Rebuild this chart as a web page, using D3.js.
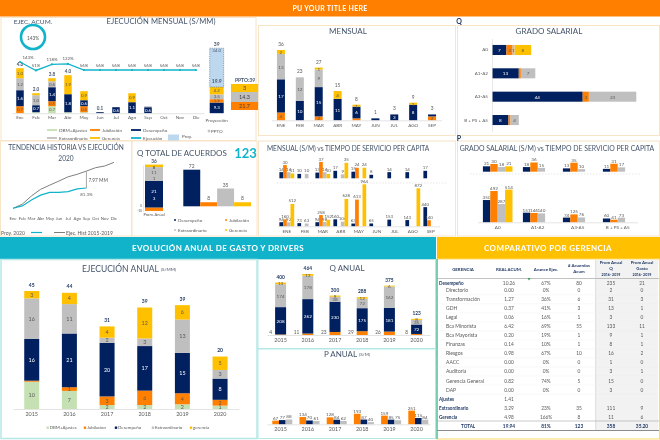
<!DOCTYPE html>
<html><head><meta charset="utf-8">
<script src="https://cdn.jsdelivr.net/npm/d3@7/dist/d3.min.js"></script>
<style>html,body{margin:0;padding:0;background:#fff}svg{display:block;filter:blur(0.3px)}text{font-family:Lato,"Open Sans",sans-serif}</style>
</head><body><svg id="c" width="660" height="440"></svg>
<script>
// ---------- data ----------
const seriesKeys = ["dbm","jub","des","ext","ger"];
const monthsShort = ["Ene","Feb","Mar","Abr","May","Jun","Jul","Ago","Sep","Oct","Nov","Dic"];
const ejecDbm = [0,0.1,0.7,0.1,0.1,0,0,0,0,0,0,0];
const ejecJub = [0.7,0,0.5,0,0.6,0,0,0,0,0,0,0];
const ejecDes = [1.6,0.7,1.4,1.8,0.6,0.1,0.6,1.1,0.6,0,0,0];
const ejecExt = [1.2,1.0,0.6,0,0,0,0,0,0.1,0,0,0];
const ejecGer = [1.0,0.2,0.3,1.9,0.9,0,0,0.9,0,0,0,0];
const ejecTotals = ["4.6","2.0","3.8","4.0","","0.1","","","","","",""];
const ejecPct = [143,51,118,122,56,56,56,56,56,56,56,56];
const projKeys = ["des","jub","ext","ger","proy"];
const projValues = [6.4,2,2.9,4.4,23.3];
const projLabels = ["9.3","1.9","3.5","4.2","19.9"];
const pptoValues = ["3","14.3","21.7"];

const trendMonths = monthsShort;
const trendHist = [10.4,12.3,16.2,19.3,21.3,23.2,25.2,26.4,27.9,29.5,30.3,32];
const trendEjec = [10.4,11.5,14.3,16.6,17.9,17.9,18.2,19.5,19.94];

const qTotalCats = ["Desempeño","Jubilación","Extraordinario","Gerencia"];
const qTotalVals = [72,8,35,8];
const qAvgVals = [21.3,11.1,2];
const qAvgJub = -2.6;

const monthsUp = ["ENE","FEB","MAR","ABR","MAY","JUN","JUL","AGO","SEP"];
const mensJub = [4,0,2,0,1,0,0,0,2];
const mensDes = [17,10,15,11,6,1,3,8,1];
const mensExt = [13,12,9,0,0,0,0,0,0];
const mensGer = [2,0,1,4,1,0,0,1,0];
const mensTotals = [36,23,27,15,8,1,3,9,3];

const gradeCats = ["A0","A1-A2","A3-A5","B + PS + A5"];
const gradeDes = [7,13,44,8];
const gradeJub = [3,1,3,1];
const gradeExt = [1,7,23,4];
const gradeGer = [8,0,0,0];

const timeKeys = ["des","jub","ext","ger"];
const timeTopDes = [14,10,13,17,15,8,14,14,17];
const timeTopJub = [30,null,37,null,24,null,null,null,null];
const timeTopExt = [14,10,14,9,null,null,null,null,null];
const timeTopGer = [11,null,10,35,24,null,null,null,null];
const timeLowDes = [94,73,94,160,63,65,153,143,440];
const timeLowJub = [160,null,258,null,613,null,null,null,140];
const timeLowExt = [92,63,98,106,null,null,null,null,null];
const timeLowGer = [512,null,152,628,964,null,null,872,null];

const gradeTopDes = [21,18,13,11];
const gradeTopJub = [30,36,35,31];
const gradeTopExt = [18,15,10,17];
const gradeTopGer = [21,null,null,null];
const gradeLowDes = [350,151,74,60];
const gradeLowJub = [492,146,125,41];
const gradeLowExt = [287,140,76,73];
const gradeLowGer = [514,null,null,null];

const years = ["2015","2016","2017","2018","2019","2020"];
const anualDbm = [10.4,6.9,1.5,1.5,1.8,1.3];
const anualJub = [0.4,1.4,3.3,5.5,4.2,2.2];
const anualDes = [15.9,20.5,20.4,17,15.4,8.1];
const anualExt = [15.5,11.2,2,2.9,12.7,3.3];
const anualGer = [2.8,4.3,4.3,11.8,5.5,5.1];
const anualTotals = [45,44,31,39,39,20];

const qaJub = [4,11,23,29,26,8];
const qaDes = [208,262,230,175,181,72];
const qaExt = [174,178,38,72,162,35];
const qaGer = [13,13,9,12,6,8];
const qaTotals = [400,464,300,288,375,123];

const paKeys = ["jub","des","ext"];
const paJub = [67,134,128,193,159,251];
const paDes = [77,70,84,87,85,115];
const paExt = [88,61,62,40,75,84];

const tableHeads = [["GERENCIA"],["REAL  ACUM."],["Avance Ejec."],["# Acuerdos","Acum"],["Prom Anual","Q","2016- 2019"],["Prom Anual","Gasto","2016- 2019"]];
const tableNames = ["Desempeño","Directorio","Transformación","GDH","Legal","Bca Minorista","Bca Mayorista","Finanzas","Riesgos","AACC","Auditoria","Gerencia General","DAP","Ajustes","Extraordinario","Gerencia","TOTAL"];
const tableBold = ["Desempeño","Ajustes","Extraordinario","Gerencia","TOTAL"];
const tableReal = ["10.26","0.00","1.27","0.37","0.06","6.42","0.20","0.14","0.98","0.00","0.00","0.82","0.00","1.41","3.29","4.98","19.94"];
const tableAvance = ["67%","0%","36%","41%","16%","69%","19%","10%","67%","0%","0%","74%","0%","","23%","166%","81%"];
const tableAcuerdos = ["80","0","6","3","1","55","1","1","10","0","0","5","0","","35","8","123"];
const tablePromQ = ["235","2","31","13","3","133","9","8","16","1","3","15","3","","111","11","358"];
const tablePromG = ["21","0","3","1","0","11","1","1","2","0","1","0","0","","9","6","35.20"];

// ---------- style ----------
const col = {dbm:"#C5E0B3",jub:"#FF8000",des:"#002060",ext:"#BFBFBF",ger:"#FFC000",proy:"#BDD7EE"};
const teal = "#11B3CB", ink = "#44546A", soft="#595959", beige="#F8E4C6", lightTeal="#B5E7E7";
const svg = d3.select("#c");

function rect(x,y,w,h,fill,stroke,sw){return svg.append("rect").attr("x",x).attr("y",y).attr("width",w).attr("height",h).attr("fill",fill||"none").attr("stroke",stroke||"none").attr("stroke-width",sw||0);}
function text(x,y,t,o){o=o||{};return svg.append("text").attr("x",x).attr("y",y).attr("text-anchor",o.a||"middle").attr("dominant-baseline","central").attr("font-size",o.s||5).attr("font-weight",o.b?"bold":"normal").attr("fill",o.c||soft).attr("letter-spacing",o.ls||0).text(t);}
function hline(x1,x2,y,c,sw,dash){return svg.append("line").attr("x1",x1).attr("x2",x2).attr("y1",y).attr("y2",y).attr("stroke",c).attr("stroke-width",sw||1).attr("stroke-dasharray",dash||null);}
function vline(x,y1,y2,c,sw){return svg.append("line").attr("x1",x).attr("x2",x).attr("y1",y1).attr("y2",y2).attr("stroke",c).attr("stroke-width",sw||1);}
function axis(x,y0,size,color){
  const g=svg.append("g").attr("transform",`translate(0,${y0})`).call(d3.axisBottom(x).tickSize(0).tickPadding(3));
  g.selectAll("text").attr("font-size",size||5).attr("fill",color||soft).attr("font-family","Lato");
  g.select(".domain").attr("stroke","#D9D9D9").attr("stroke-width",0.7);
  return g;
}
function stacked(cats,keys,cols,x,y,w,opt){
  opt=opt||{};
  const table=cats.map((c,i)=>{const r={cat:c};keys.forEach((k,j)=>r[k]=cols[j][i]);return r;});
  const layers=d3.stack().keys(keys)(table);
  layers.forEach(l=>{
    const g=svg.append("g");
    g.selectAll("rect").data(l).join("rect")
      .attr("x",d=>x(d.data.cat)+x.bandwidth()/2-w/2).attr("y",d=>y(d[1])).attr("width",w)
      .attr("height",d=>Math.max(0,y(d[0])-y(d[1]))).attr("fill",col[l.key]);
    if(opt.labels!==false){
      const minV=(opt.minBy&&opt.minBy[l.key])||opt.min||0;
      g.selectAll("text").data(l.filter(d=>(d[1]-d[0])>=minV && (d[1]-d[0])>0 && !(opt.skip||[]).includes(l.key))).join("text")
        .attr("x",d=>x(d.data.cat)+x.bandwidth()/2).attr("y",d=>(y(d[0])+y(d[1]))/2).attr("text-anchor","middle").attr("dominant-baseline","central")
        .attr("font-size",opt.size||5).attr("fill",l.key==="des"?"#fff":"#595959")
        .text(d=>opt.fmt?opt.fmt(d[1]-d[0]):Math.round(d[1]-d[0])||1);
    }
  });
  return table;
}
function grouped(cats,keys,cols,x,inner,y,opt){
  opt=opt||{};
  keys.forEach((k,j)=>{
    const data=cats.map((c,i)=>({c,v:cols[j][i]})).filter(d=>d.v!=null);
    const cx=d=>x(d.c)+x.bandwidth()/2+inner(k);
    const g=svg.append("g");
    g.selectAll("rect").data(data).join("rect").attr("x",cx).attr("y",d=>y(d.v)).attr("width",inner.bandwidth())
      .attr("height",d=>y(0)-y(d.v)).attr("fill",col[k]);
    g.selectAll("text").data(data).join("text").attr("x",d=>cx(d)+inner.bandwidth()/2).attr("y",d=>y(d.v)-3)
      .attr("text-anchor","middle").attr("dominant-baseline","central").attr("font-size",opt.size||5).attr("fill",soft).text(d=>d.v);
  });
}
const band=(dom,a,b)=>d3.scaleBand().domain(dom).range([a,b]);
const linY=(v0,p0,v1,p1)=>d3.scaleLinear().domain([v0,v1]).range([p0,p1]);

// ---------- frames ----------
rect(0,0,660,16.5,"#FF8000");
text(330,7.5,"PU YOUR TITLE HERE",{s:7,b:true,c:"#fff",ls:0.3});
rect(1,17.5,255,123,"none",beige,1);
rect(0.5,141,131,95,"none",beige,1);
rect(132,141,125,95,"none",beige,1);
rect(258.5,25.5,197,110,"none",beige,1);
rect(258.5,141,197,95,"none",beige,1);
rect(457.5,25.5,202,110,"none",beige,1);
rect(457.5,141,202,95,"none",beige,1);
rect(0,237,436,22,teal);
rect(437,237,223,22,"#FFC000");
text(218,248,"EVOLUCIÓN ANUAL DE GASTO Y DRIVERS",{s:8,b:true,c:"#fff",ls:0.4});
text(548,248,"COMPARATIVO POR GERENCIA",{s:8,b:true,c:"#fff",ls:0.4});
rect(1,259.5,256,179,"none",lightTeal,1.5);
rect(258,259.5,177.5,89,"none",lightTeal,1);
rect(258,349,177.5,89.5,"none",lightTeal,1);
rect(437,259,222.5,180,"none","#FFD966",1);
vline(437,259,439,"#57C9B0",1.6);
text(459,20.5,"Q",{s:7,b:true,c:"#1F3864"});
text(459,137.5,"P",{s:7,b:true,c:"#1F3864"});

// ---------- ejecucion mensual ----------
text(33,21,"EJEC. ACUM.",{s:6.5,c:ink});
text(161,21,"EJECUCIÓN MENSUAL (S/MM)",{s:7.6,c:ink,ls:0.1});
svg.append("circle").attr("cx",33).attr("cy",37).attr("r",12).attr("fill","#fff").attr("stroke",teal).attr("stroke-width",2.6);
text(33,37.5,"143%",{s:4.8});
{
  const x=band(monthsShort,12,204), y=linY(0,113.2,10,13.2);
  stacked(monthsShort,seriesKeys,[ejecDbm,ejecJub,ejecDes,ejecExt,ejecGer],x,y,7.5,{fmt:d3.format(".1f"),min:0.3,size:4.4});
  axis(x,113.2,4.6);
  svg.append("g").selectAll("text").data(monthsShort.map((m,i)=>({m,t:ejecTotals[i],v:ejecDbm[i]+ejecJub[i]+ejecDes[i]+ejecExt[i]+ejecGer[i]})).filter(d=>d.t)).join("text")
    .attr("x",d=>x(d.m)+8).attr("y",d=>y(d.v)-4).attr("text-anchor","middle").attr("dominant-baseline","central").attr("font-size",4.6).attr("font-weight","bold").attr("fill",ink).text(d=>d.t);
  const py=linY(56,70,143,62);
  const line=d3.line().x((d,i)=>x(monthsShort[i])+8).y(d=>py(d));
  svg.append("path").attr("d",line(ejecPct)).attr("fill","none").attr("stroke",teal).attr("stroke-width",1.3);
  svg.append("g").selectAll("circle").data(ejecPct).join("circle").attr("cx",(d,i)=>x(monthsShort[i])+8).attr("cy",d=>py(d)).attr("r",1.1).attr("fill",teal);
  svg.append("g").selectAll("text").data(ejecPct).join("text").attr("x",(d,i)=>x(monthsShort[i])+8+(i===0?8:0)).attr("y",d=>py(d)-5).attr("text-anchor","middle").attr("dominant-baseline","central").attr("font-size",4.4).attr("fill",soft).text(d=>d+"%");
  // projection column
  const yp=linY(0,113.2,39,48.2);
  const pcx=216.7,pw=14; let acc=0;
  projKeys.forEach((k,i)=>{
    const v=projValues[i], y1=yp(acc+v), y0=yp(acc); acc+=v;
    const r=rect(pcx-pw/2,y1,pw,y0-y1,col[k]);
    if(k==="proy") r.attr("stroke","#44546A").attr("stroke-width",0.5).attr("stroke-dasharray","1.2 1");
    text(pcx,k==="proy"?(y0-6):(y0+y1)/2,projLabels[i],{s:k==="proy"?5:4.4,b:k==="proy",c:k==="des"?"#fff":(k==="proy"?ink:soft)});
  });
  text(pcx,50.5,"34.0",{s:4.4,c:ink});
  text(pcx,43.5,"39",{s:5,b:true,c:ink});
  text(pcx,119.5,"Proyección",{s:4.6});
  text(245,80,"PPTO:39",{s:5,b:true,c:ink});
  const boxes=[[84,8,"ger"],[92,10,"ext"],[102,8,"jub"]];
  boxes.forEach((b,i)=>{rect(231,b[0],27,b[1],col[b[2]]);text(244.5,b[0]+b[1]/2,pptoValues[i],{s:5.5,c:"#404040"});});
  // legend
  [[47,130,"DBM+Ajustes","dbm"],[90,130,"Jubilación","jub"],[131,130,"Desempeño","des"],[47,138,"Extraordinario","ext"],[90,138,"Gerencia","ger"],[131,138,"Ejecución",teal]].forEach(l=>{
    hline(l[0],l[0]+10,l[1],col[l[3]]||l[3],1.8);
    text(l[0]+12,l[1],l[2],{s:4.6,a:"start"});
  });
  rect(168,134.5,11,6,col.proy);
  text(182,136,"Proy.",{s:4.6,a:"start"});
  svg.append("circle").attr("cx",209).attr("cy",131).attr("r",1).attr("fill","none").attr("stroke",soft).attr("stroke-width",0.4);
  text(211,131,"PPTO",{s:4.6,a:"start"});
}

// ---------- tendencia ----------
text(66,147,"TENDENCIA HISTORIA VS EJECUCIÓN",{s:6.6,c:ink});
text(66,158,"2020",{s:6.6,c:ink});
{
  const x=band(trendMonths,8.5,118.5), y=linY(19.94,188,27.94,171);
  const line=d3.line().x((d,i)=>x(trendMonths[i])+x.bandwidth()/2).y(d=>y(d));
  svg.append("path").attr("d",line(trendHist)).attr("fill","none").attr("stroke","#7F7F7F").attr("stroke-width",1);
  svg.append("path").attr("d",line(trendEjec)).attr("fill","none").attr("stroke",teal).attr("stroke-width",1.2);
  const xs=x("Sep")+x.bandwidth()/2;
  vline(xs,y(trendHist[8]),y(trendEjec[8]),"#A6A6A6",1);
  text(xs+2,180,"7.97 MM",{s:4.8,a:"start"});
  text(xs,194,"81.3%",{s:4.4});
  const g=axis(x,214,4.3); g.select(".domain").attr("stroke","none");
  text(1,233,"Proy. 2020",{s:5,a:"start"});
  hline(31,42,232.5,teal,1.2);
  hline(54,65,232.5,"#7F7F7F",1);
  text(66,233,"Ejec. Hist 2015-2019",{s:5,a:"start"});
}

// ---------- q total ----------
text(137,153,"Q TOTAL DE ACUERDOS",{s:8,a:"start",c:ink});
text(245.5,153,"123",{s:13,b:true,c:teal});
{
  const ya=linY(0,207.7,21.3,181);
  const xa=band(["Prom. Anual"],145,163);
  stacked(["Prom. Anual"],["des","ext","ger"],qAvgVals.map(v=>[v]),xa,ya,18,{labels:false});
  rect(145,ya(0),18,ya(qAvgJub)-ya(0),col.jub);
  text(154,191,"21",{s:4.6,c:"#fff"});text(154,197.5,"3",{s:4.6,c:"#fff"});
  text(154,172,"11",{s:4.6});text(154,178,"1",{s:4.6});
  text(154,167,"8",{s:4.2,b:true});
  text(154,161,"36",{s:4.8,b:true,c:ink});
  vline(143.5,165.5,212,"#D9D9D9",0.6);
  text(154,214.5,"Prom. Anual",{s:4});
  text(142,205.5,"0",{s:3,a:"end"});text(142,210.5,"-10",{s:3,a:"end"});
  const x=band(qTotalCats,183.3,251), y=linY(0,206.3,72,169.7);
  const colsT=[col.des,col.jub,col.ext,col.ger];
  qTotalCats.forEach((c,i)=>{
    rect(x(c),y(qTotalVals[i]),x.bandwidth(),y(0)-y(qTotalVals[i]),colsT[i]);
    text(x(c)+x.bandwidth()/2,y(qTotalVals[i])-4,qTotalVals[i],{s:5});
    const lx=[175,226,175,226][i], ly=[220,220,230,230][i];
    svg.append("circle").attr("cx",lx).attr("cy",ly).attr("r",1).attr("fill",colsT[i]);
    text(lx+3,ly,c,{s:4.6,a:"start"});
  });
}

// ---------- mensual ----------
text(348,31,"MENSUAL",{s:8,c:ink});
{
  const x=band(monthsUp,271.5,441.5), y=linY(0,120.3,36,50);
  stacked(monthsUp,["jub","des","ext","ger"],[mensJub,mensDes,mensExt,mensGer],x,y,8,{size:4.6,minBy:{des:3,jub:2,ger:1}});
  axis(x,120.3,4.6);
  svg.append("g").selectAll("text").data(monthsUp).join("text").attr("x",m=>x(m)+x.bandwidth()/2)
    .attr("y",(m,i)=>y(mensJub[i]+mensDes[i]+mensExt[i]+mensGer[i])-6).attr("text-anchor","middle").attr("dominant-baseline","central").attr("font-size",4.8).attr("fill",soft).text((m,i)=>mensTotals[i]);
}

// ---------- grado salarial ----------
text(549,31,"GRADO SALARIAL",{s:8,c:ink});
{
  const y=d3.scaleBand().domain(gradeCats).range([38.4,131.6]).paddingInner(0.57).paddingOuter(0.28), x=d3.scaleLinear().domain([0,44]).range([492,582.7]);
  const table=gradeCats.map((c,i)=>({cat:c,des:gradeDes[i],jub:gradeJub[i],ext:gradeExt[i],ger:gradeGer[i]}));
  d3.stack().keys(["des","jub","ext","ger"])(table).forEach(l=>{
    const g=svg.append("g");
    g.selectAll("rect").data(l).join("rect").attr("x",d=>x(d[0])).attr("y",d=>y(d.data.cat)).attr("width",d=>x(d[1])-x(d[0])).attr("height",y.bandwidth()).attr("fill",col[l.key]);
    g.selectAll("text").data(l.filter(d=>d[1]-d[0]>1 || (l.key==="ext"&&d[1]-d[0]===1))).join("text").attr("x",d=>(x(d[0])+x(d[1]))/2).attr("y",d=>y(d.data.cat)+y.bandwidth()/2)
      .attr("text-anchor","middle").attr("dominant-baseline","central").attr("font-size",4.6).attr("fill",l.key==="des"?"#fff":soft).text(d=>d[1]-d[0]);
  });
  const ax=svg.append("g").attr("transform","translate(492,0)").call(d3.axisLeft(y).tickSize(0).tickPadding(4));
  ax.selectAll("text").attr("font-size",4.6).attr("fill",soft).attr("font-family","Lato");
  ax.select(".domain").attr("stroke","#D9D9D9").attr("stroke-width",0.6);
}

// ---------- mensual vs tiempo ----------
text(267,148,"MENSUAL (S/M) vs TIEMPO DE SERVICIO PER CAPITA",{s:6.6,a:"start",c:ink});
{
  const x=band(monthsUp,277.8,439.8);
  const inner=d3.scaleBand().domain(timeKeys).range([-7.4,7.4]);
  grouped(monthsUp,timeKeys,[timeTopDes,timeTopJub,timeTopExt,timeTopGer],x,inner,linY(0,178.3,37,162),{size:4.4});
  hline(277,448,183,"#D9D9D9",0.6,"1.5 1.5");
  grouped(monthsUp,timeKeys,[timeLowDes,timeLowJub,timeLowExt,timeLowGer],x,inner,linY(0,226.3,964,184.3),{size:4.4});
  axis(x,226.3,4.6);
}

// ---------- grado vs tiempo ----------
text(557,148,"GRADO SALARIAL (S/M) vs TIEMPO DE SERVICIO PER CAPITA",{s:6.9,c:ink});
{
  const x=band(gradeCats,477.7,637.7);
  const inner=d3.scaleBand().domain(timeKeys).range([-14.8,14.8]);
  grouped(gradeCats,timeKeys,[gradeTopDes,gradeTopJub,gradeTopExt,gradeTopGer],x,inner,linY(0,171.7,30,164),{size:4.6});
  hline(470,640,174,"#D9D9D9",0.6,"1.5 1.5");
  grouped(gradeCats,timeKeys,[gradeLowDes,gradeLowJub,gradeLowExt,gradeLowGer],x,inner,linY(0,222.3,514,189.6),{size:4.6});
  axis(x,222.3,4.6);
}

// ---------- ejecucion anual ----------
svg.append("text").attr("x",129).attr("y",268.5).attr("text-anchor","middle").attr("dominant-baseline","central").attr("fill",ink).attr("font-size",8.5).text("EJECUCIÓN ANUAL ").append("tspan").attr("font-size",4.5).text("(S/MM)");
{
  const x=band(years,12.9,238.9), y=linY(0,409,45,291);
  stacked(years,seriesKeys,[anualDbm,anualJub,anualDes,anualExt,anualGer],x,y,15,{size:5.4,min:0.9});
  axis(x,409,5.4);
  svg.append("g").selectAll("text").data(years).join("text").attr("x",m=>x(m)+x.bandwidth()/2)
    .attr("y",(m,i)=>y(anualDbm[i]+anualJub[i]+anualDes[i]+anualExt[i]+anualGer[i])-6.5).attr("text-anchor","middle").attr("dominant-baseline","central").attr("font-size",5).attr("font-weight","bold").attr("fill","#1F3864").text((m,i)=>anualTotals[i]);
  [[47.7,"DBM+Ajustes","dbm"],[85,"Jubilacion","jub"],[116,"Desempeño","des"],[153,"Extraordinario","ext"],[191,"gerencia","ger"]].forEach(l=>{
    rect(l[0]-1.2,426.5,2.4,2.4,col[l[2]]);
    text(l[0]+2,427.7,l[1],{s:4.4,a:"start"});
  });
}

// ---------- q anual ----------
text(347,268,"Q ANUAL",{s:8,c:ink});
{
  const x=band(years,267,430.2), y=linY(0,335,464,274);
  stacked(years,["jub","des","ext","ger"],[qaJub,qaDes,qaExt,qaGer],x,y,11,{size:4.6,skip:["jub"]});
  axis(x,335,5.4);
  svg.append("g").selectAll("text").data(years).join("text").attr("x",m=>x(m)+x.bandwidth()/2-8.5).attr("y",331.5).attr("text-anchor","end").attr("dominant-baseline","central").attr("font-size",4.8).attr("fill",soft).text((m,i)=>qaJub[i]);
  svg.append("g").selectAll("text").data(years).join("text").attr("x",m=>x(m)+x.bandwidth()/2)
    .attr("y",(m,i)=>y(qaJub[i]+qaDes[i]+qaExt[i]+qaGer[i])-6).attr("text-anchor","middle").attr("dominant-baseline","central").attr("font-size",4.8).attr("font-weight","bold").attr("fill","#1F3864").text((m,i)=>qaTotals[i]);
}

// ---------- p anual ----------
svg.append("text").attr("x",347).attr("y",354).attr("text-anchor","middle").attr("dominant-baseline","central").attr("fill",ink).attr("font-size",8).text("P ANUAL ").append("tspan").attr("font-size",4.5).text("(S/M)");
{
  const x=band(years,267,430.2);
  const inner=d3.scaleBand().domain(paKeys).range([-8.3,11.7]);
  grouped(years,paKeys,[paJub,paDes,paExt],x,inner,linY(0,424.3,251,410.6),{size:4.6});
  axis(x,424.3,5.4);
}

// ---------- tabla ----------
{
  const headX=[463,509,546,579,611,642];
  rect(595.7,260,62.5,170,"#F2F2F2");
  tableHeads.forEach((h,i)=>{
    const many=h.length===3, two=h.length===2;
    h.forEach((t,j)=>text(headX[i],(many?262+j*6.3:two?265+j*6:269)+0,t,{s:many&&j===2?3.6:4.4,b:true,c:"#1F3864"}));
  });
  hline(437.5,659,278.5,"#A6A6A6",0.7);
  vline(595.7,260,430,"#BFBFBF",0.5);
  const rowY=i=>i===0?282.7:290.3+9.02*(i-1);
  const rows=tableNames.map((n,i)=>({n,i,r:[tableReal[i],tableAvance[i],tableAcuerdos[i],tablePromQ[i],tablePromG[i]],bold:tableBold.includes(n)}));
  rows.forEach(d=>{
    if(d.i>0&&d.i<13) hline(437.5,659,rowY(d.i)+4.5,"#EDEDED",0.4);
    const tot=d.n==="TOTAL";
    text(tot?461:(d.bold?439:446),rowY(d.i),d.n,{s:d.bold?4.6:5,a:"start",b:d.bold,c:d.bold?"#1F3864":soft});
    d.r.forEach((v,k)=>text(headX[k+1],rowY(d.i),v,{s:4.8,b:tot,c:tot?"#1F3864":soft}));
  });
  hline(437.5,659,421,"#A6A6A6",0.6);
  hline(437.5,659,430.5,"#595959",0.7);
  svg.append("path").attr("d",d3.symbol(d3.symbolTriangle,4)()).attr("transform","translate(529,278.8) rotate(180)").attr("fill","#2E9E4F");
}
</script></body></html>
